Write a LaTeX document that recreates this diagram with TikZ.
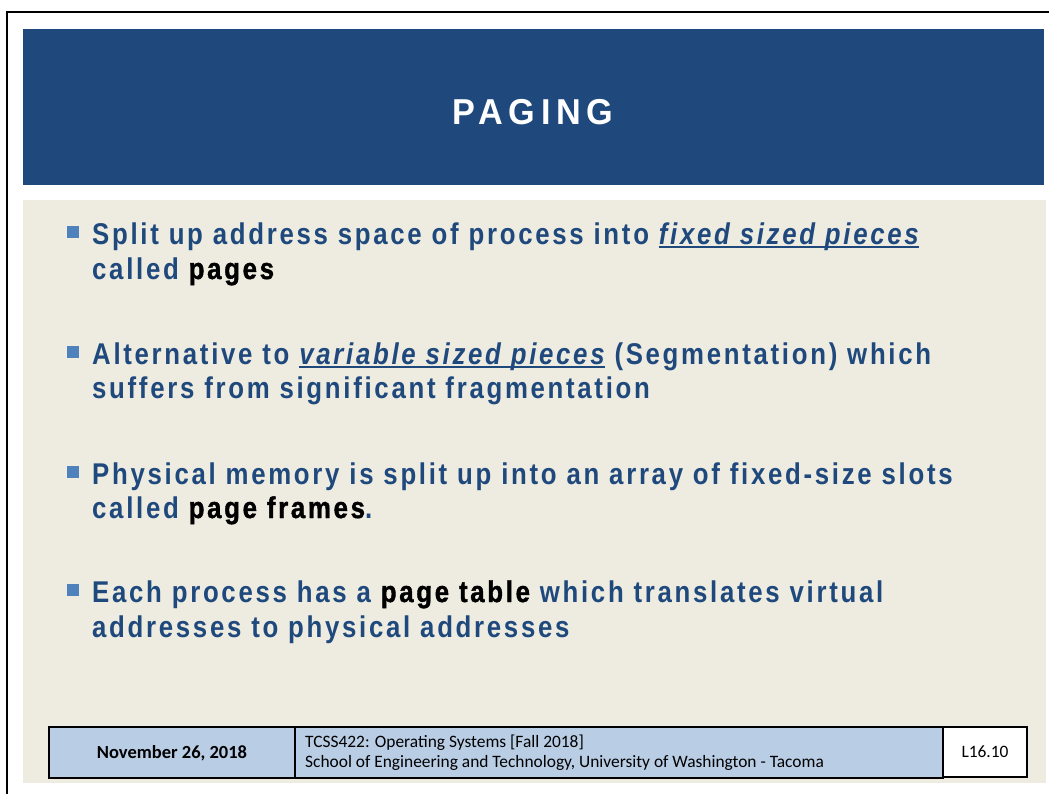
\documentclass[tikz,border=0pt]{standalone}
\usepackage{fontspec}
\setmainfont{Liberation Sans}
\newfontfamily\titlefont[FakeStretch=0.95,LetterSpace=16]{Liberation Sans}
\newfontfamily\bodyfont[FakeStretch=0.86,LetterSpace=9]{Liberation Sans}
\newfontfamily\footfont{Carlito}
\definecolor{titleblue}{HTML}{1F497D}
\definecolor{beige}{HTML}{EEECE1}
\definecolor{bulletblue}{HTML}{4F81BD}
\definecolor{footblue}{HTML}{B9CDE5}
\definecolor{textblue}{HTML}{1F497D}
\newsavebox{\myulbox}
\newcommand{\myuline}[1]{\leavevmode\sbox{\myulbox}{#1}\rlap{\vrule width \wd\myulbox height -2.2pt depth 3.7pt}\usebox{\myulbox}}
\newcommand{\blk}[1]{{\color{black}\addfontfeature{FakeBold=1.3}#1}}
\begin{document}
\begin{tikzpicture}[x=1pt,y=-1pt,
  bsq/.style={fill=bulletblue, minimum size=12pt, inner sep=0pt, draw=none},
  txt/.style={anchor=base west, inner sep=0pt, text=textblue,
    font=\bodyfont\bfseries\fontsize{30}{35}\selectfont},
  foot/.style={draw=black, line width=1.2pt, fill=footblue},
  ftxt/.style={inner sep=0pt, text=black, font=\footfont\fontsize{17.4}{20}\selectfont}]
\useasboundingbox (0,0) rectangle (1049,793);
\fill[white] (0,0) rectangle (1049,793);
\draw[line width=2pt, black] (7,800) -- (7,12) -- (1060,12);
\fill[titleblue] (23,29) rectangle (1044,185);
\fill[beige] (23,200) rectangle (1046,783);
\node[text=white, inner sep=0pt, anchor=base, font=\titlefont\bfseries\fontsize{36}{40}\selectfont] (title) at (533,124) {PAGING};
% bullets
\node[bsq] (s1) at (73,232) {};
\node[bsq] (s2) at (73,352) {};
\node[bsq] (s3) at (73,472) {};
\node[bsq] (s4) at (73,590) {};
\node[txt] (l1a) at (92,244) {Split up address space of process into \myuline{\itshape fixed sized pieces}};
\node[txt] (l1b) at (92,279) {called \blk{pages}};
\node[txt] (l2a) at (92,364) {Alternative to \myuline{\itshape variable sized pieces} (Segmentation) which};
\node[txt] (l2b) at (92,398) {suffers from significant fragmentation};
\node[txt] (l3a) at (92,484) {Physical memory is split up into an array of fixed-size slots};
\node[txt] (l3b) at (92,518) {called \blk{page frames}.};
\node[txt] (l4a) at (92,602) {Each process has a \blk{page table} which translates virtual};
\node[txt] (l4b) at (92,637) {addresses to physical addresses};
% footer
\draw[foot] (49,727) rectangle (295,778);
\draw[foot] (295,727) rectangle (943,778);
\draw[foot, fill=white] (943,727) rectangle (1027,777);
\node[ftxt, font=\footfont\bfseries\fontsize{18.5}{22}\selectfont] (date) at (172,753) {November 26, 2018};
\node[ftxt, anchor=base west] (course) at (305,747) {TCSS422: Operating Systems [Fall 2018]};
\node[ftxt, anchor=base west] (school) at (305,767) {School of Engineering and Technology, University of Washington - Tacoma};
\node[ftxt] (slide) at (985,752) {L16.10};
\end{tikzpicture}
\end{document}
